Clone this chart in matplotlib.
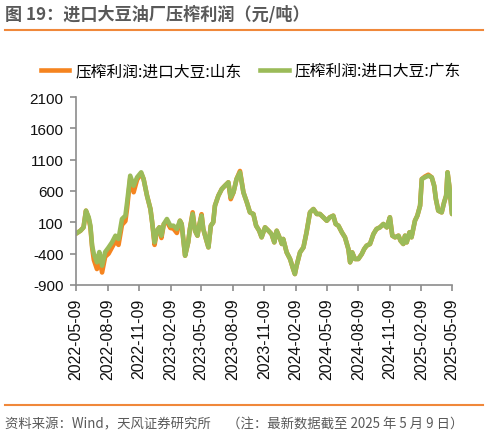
import matplotlib
matplotlib.use('Agg')
import matplotlib.pyplot as plt
from matplotlib.lines import Line2D
import pandas as pd

plt.rcParams['font.family'] = ['Noto Sans CJK SC', 'DejaVu Sans']
plt.rcParams['axes.unicode_minus'] = False

dates = [
    "2022-05-09", "2022-05-22", "2022-05-31", "2022-06-07", "2022-06-15", "2022-06-20", "2022-06-25", "2022-06-30",
    "2022-07-09", "2022-07-16", "2022-07-24", "2022-08-02", "2022-08-12", "2022-08-22", "2022-09-01", "2022-09-10",
    "2022-09-20", "2022-09-30", "2022-10-05", "2022-10-14", "2022-10-24", "2022-11-03", "2022-11-15", "2022-11-22",
    "2022-12-02", "2022-12-12", "2022-12-17", "2022-12-24", "2022-12-31", "2023-01-07", "2023-01-13", "2023-01-20",
    "2023-01-29", "2023-02-08",
    "2023-02-17", "2023-02-27", "2023-03-08", "2023-03-13", "2023-03-23", "2023-04-01", "2023-04-06", "2023-04-14",
    "2023-04-21", "2023-04-28", "2023-05-03", "2023-05-10", "2023-05-15", "2023-05-23", "2023-05-30", "2023-06-06",
    "2023-06-13", "2023-06-18", "2023-06-28", "2023-07-08", "2023-07-17", "2023-07-27", "2023-08-03", "2023-08-11",
    "2023-08-20", "2023-08-30", "2023-09-09", "2023-09-19", "2023-09-28", "2023-10-08", "2023-10-16", "2023-10-25",
    "2023-11-01", "2023-11-11", "2023-11-21",
    "2023-11-30", "2023-12-08", "2023-12-15", "2023-12-25", "2023-12-30", "2024-01-03", "2024-01-13", "2024-01-23",
    "2024-02-01", "2024-02-06", "2024-02-11", "2024-02-21", "2024-03-02", "2024-03-11", "2024-03-21", "2024-03-31",
    "2024-04-10", "2024-04-19", "2024-04-29", "2024-05-09", "2024-05-18", "2024-05-28", "2024-06-04", "2024-06-12",
    "2024-06-22", "2024-07-01", "2024-07-11", "2024-07-16", "2024-07-22", "2024-07-30", "2024-08-09", "2024-08-19",
    "2024-08-26",
    "2024-09-02", "2024-09-12", "2024-09-22", "2024-10-01", "2024-10-11", "2024-10-21", "2024-10-31", "2024-11-09",
    "2024-11-16", "2024-11-24", "2024-12-04", "2024-12-10", "2024-12-18", "2024-12-23", "2024-12-28", "2025-01-05",
    "2025-01-11", "2025-01-21", "2025-01-28", "2025-02-05", "2025-02-10", "2025-02-19", "2025-03-01", "2025-03-11",
    "2025-03-18", "2025-03-23", "2025-03-30", "2025-04-09", "2025-04-16", "2025-04-22", "2025-04-26", "2025-05-01",
    "2025-05-09",
]

# 压榨利润:进口大豆:广东 (green)
guangdong = [
    -80, -34, 20, 286, 180, 46, -273, -406, -538, -374, -592, -374, -300, -219, -113, -166, 153, 206, 419, 844,
    684, 818, 898, 791, 525, 312, 100, -219, -34, 20, -113, 73, 153, 46,
    46, -6, 126, 73, -432, -219, -6, 233, -34, -113, 46, 206, -6, -166, -299, 46, 100, 366, 525, 632,
    684, 738, 499, 578, 791, 898, 578, 419, 259, 233, 46, -34, -139, 20, -34,
    -87, -219, -34, -166, -245, -166, -379, -485, -645, -725, -592, -379, -300, -60, 259, 312, 233, 233, 180, 126,
    180, 206, 73, 46, -60, -139, -326, -538, -379, -485, -485, -406, -326,
    -273, -245, -87, -6, 20, 73, 20, 180, -113, -139, -113, -193, -245, -113, -219, -60, -139, 126, 206, 366,
    791, 818, 844, 818, 684, 472, 286, 259, 419, 525, 898, 684, 233,
]

# 压榨利润:进口大豆:山东 (orange)
shandong = [
    -80, -34, 20, 286, 160, 20, -300, -500, -645, -450, -700, -450, -400, -300, -200, -260, 60, 120, 330, 800,
    580, 780, 880, 791, 525, 312, 100, -260, -34, 20, -150, 73, 110, 10,
    0, -70, 126, 73, -432, -219, -6, 260, -34, -113, 46, 230, -6, -166, -299, 46, 100, 366, 525, 632,
    684, 738, 470, 578, 791, 920, 578, 419, 259, 233, 46, -34, -139, 20, -34,
    -87, -219, -34, -166, -245, -166, -379, -485, -645, -725, -592, -379, -300, -60, 259, 312, 233, 233, 180, 126,
    180, 206, 73, 46, -60, -139, -326, -538, -379, -485, -485, -406, -326,
    -273, -245, -87, -6, 20, 73, 20, 180, -113, -139, -113, -193, -245, -113, -219, -60, -139, 126, 206, 366,
    791, 830, 860, 818, 684, 472, 286, 259, 419, 525, 898, 684, 233,
]

x_tick_labels = ["2022-05-09", "2022-08-09", "2022-11-09", "2023-02-09", "2023-05-09", "2023-08-09",
                 "2023-11-09", "2024-02-09", "2024-05-09", "2024-08-09", "2024-11-09", "2025-02-09",
                 "2025-05-09"]
y_ticks = [-900, -400, 100, 600, 1100, 1600, 2100]

series_names = ["压榨利润:进口大豆:山东", "压榨利润:进口大豆:广东"]
title = "图 19：进口大豆油厂压榨利润（元/吨）"
source = "资料来源：Wind，天风证券研究所　 （注：最新数据截至 2025 年 5 月 9 日）"

W, H = 488, 435
fig = plt.figure(figsize=(W / 100, H / 100), dpi=100)
ax = fig.add_axes([76 / W, 1 - 286 / H, 376 / W, 188 / H])

x = pd.to_datetime(dates)
orange = '#F5841F'
green = '#9BBB59'
ax.plot(x, shandong, color=orange, lw=3.3, solid_joinstyle='round', solid_capstyle='round')
ax.plot(x, guangdong, color=green, lw=3.3, solid_joinstyle='round', solid_capstyle='round')

ax.set_ylim(-900, 2100)
ax.set_yticks(y_ticks)
ax.set_xlim(pd.Timestamp(x_tick_labels[0]), pd.Timestamp(x_tick_labels[-1]))
ax.set_xticks(pd.to_datetime(x_tick_labels))
ax.set_xticklabels(x_tick_labels, rotation=90, family=['Liberation Sans', 'DejaVu Sans'], fontsize=11.5)
for lbl in ax.get_yticklabels():
    lbl.set_family(['Liberation Sans', 'DejaVu Sans'])
    lbl.set_fontsize(11)

for s in ['top', 'right']:
    ax.spines[s].set_visible(False)
for s in ['left', 'bottom']:
    ax.spines[s].set_color('#8C8C8C')
    ax.spines[s].set_linewidth(1.2)
ax.tick_params(axis='both', colors='#8C8C8C', labelcolor='#111111', length=4, width=1.2, pad=5)

handles = [Line2D([], [], color=orange, lw=3.3), Line2D([], [], color=green, lw=3.3)]
fig.legend(handles, series_names, loc='center', bbox_to_anchor=(251 / W, 1 - 72 / H), ncol=2,
           frameon=False, handlelength=1.8, handletextpad=0.4, columnspacing=1.2,
           prop={'family': ['Noto Sans CJK SC', 'DejaVu Sans'], 'size': 11.3})

fig.text(5 / W, 1 - 15 / H, title, fontsize=12.3, fontweight='bold', color='#595959', va='center', ha='left')
fig.add_artist(Line2D([5 / W, 483 / W], [1 - 31 / H] * 2, color='#F0883A', lw=1.5, transform=fig.transFigure))
fig.add_artist(Line2D([5 / W, 483 / W], [1 - 406 / H] * 2, color='#F0883A', lw=1.5, transform=fig.transFigure))
fig.text(5 / W, 1 - 424 / H, source, fontsize=9.6, color='#595959', va='center', ha='left')

fig.savefig('out.png', dpi=100)
